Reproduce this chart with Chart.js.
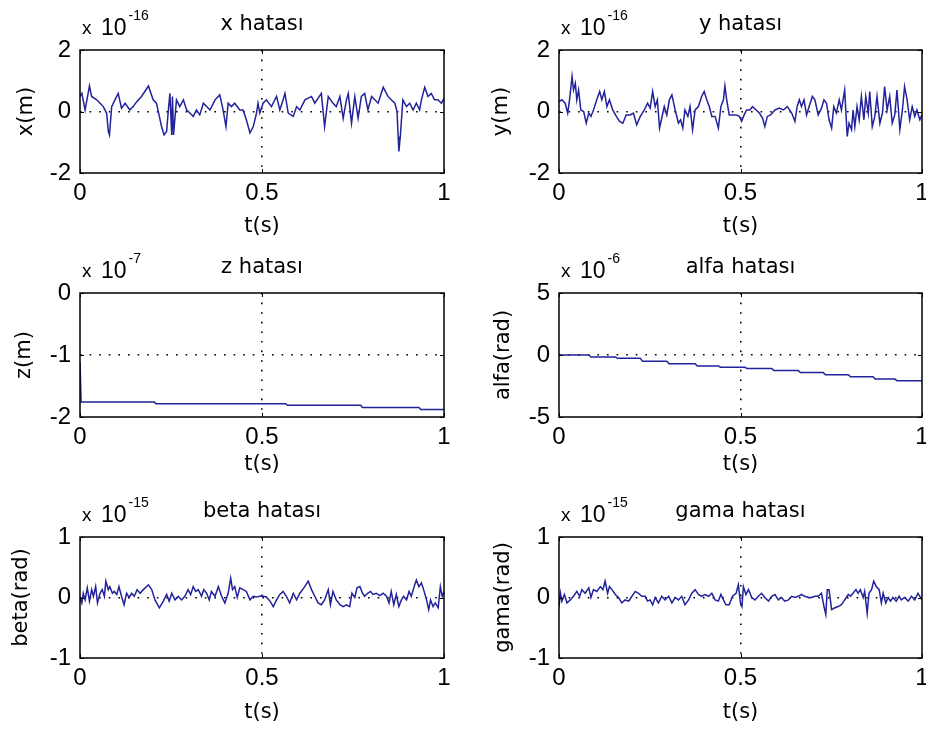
<!DOCTYPE html>
<html>
<head>
<meta charset="utf-8">
<title>Hata grafikleri</title>
<script src="https://cdn.jsdelivr.net/npm/chart.js@4.4.1/dist/chart.umd.min.js"></script>
<style>
  html, body { margin: 0; padding: 0; background: #fff; overflow: hidden; }
  body { width: 926px; height: 735px; position: relative; }
  canvas { position: absolute; }
</style>
</head>
<body>
<script>
// shared time axis
const tTicks = [0, 0.5, 1];

// x hatası (x 10^-16)
const xTicks = [-2, 0, 2];
const tX = [
  0, 0.005, 0.014, 0.026, 0.032, 0.046, 0.055, 0.064, 0.073, 0.078,
  0.081, 0.087, 0.096, 0.105, 0.114, 0.124, 0.137, 0.146, 0.156, 0.169,
  0.188, 0.201, 0.210, 0.218, 0.224, 0.231, 0.238, 0.242, 0.247, 0.252,
  0.254, 0.257, 0.265, 0.274, 0.284, 0.293, 0.302, 0.311, 0.320, 0.329,
  0.339, 0.348, 0.357, 0.371, 0.384, 0.393, 0.401, 0.407, 0.416, 0.425,
  0.439, 0.448, 0.457, 0.467, 0.476, 0.485, 0.489, 0.494, 0.503, 0.512,
  0.526, 0.540, 0.549, 0.558, 0.563, 0.572, 0.586, 0.595, 0.604, 0.618,
  0.636, 0.645, 0.663, 0.672, 0.682, 0.695, 0.704, 0.714, 0.723, 0.732,
  0.737, 0.746, 0.755, 0.764, 0.773, 0.782, 0.791, 0.801, 0.810, 0.819,
  0.833, 0.846, 0.855, 0.865, 0.871, 0.874, 0.876, 0.880, 0.887, 0.897,
  0.906, 0.915, 0.924, 0.933, 0.938, 0.947, 0.956, 0.965, 0.974, 0.983,
  0.993, 1.0
];
const xErr = [
  0.49, 0.59, 0.05, 0.83, 0.49, 0.38, 0.27, 0.16, -0.05, -0.65,
  -0.76, 0.16, 0.38, 0.59, 0.11, 0.27, 0.05, 0.16, 0.32, 0.49,
  0.83, 0.38, 0.27, -0.16, -0.49, -0.76, -0.65, -0.05, 0.59, -0.76,
  0.49, -0.76, 0.38, 0.16, 0.38, 0.05, -0.05, -0.16, 0.05, -0.11,
  0.27, 0.16, 0.05, 0.38, 0.54, 0.05, -0.49, 0.27, 0.16, 0.27,
  0.05, 0.05, -0.27, -0.70, -0.49, -0.05, 0.27, -0.05, 0.27, 0.38,
  0.16, 0.49, 0.05, 0.38, 0.59, -0.05, -0.16, 0.16, 0.05, 0.38,
  0.49, 0.27, 0.59, -0.49, 0.49, 0.27, 0.16, 0.49, -0.22, 0.38,
  0.59, -0.38, 0.49, -0.22, 0.49, 0.59, 0.05, 0.49, 0.38, 0.27,
  0.79, 0.49, 0.38, 0.27, 0.00, -0.81, -1.30, -0.81, 0.38, 0.16,
  0.27, 0.05, 0.27, 0.05, 0.38, 0.79, 0.49, 0.59, 0.38, 0.38,
  0.27, 0.43
];

// y hatası (x 10^-16)
const yTicks = [-2, 0, 2];
const tY = [
  0, 0.008, 0.017, 0.024, 0.029, 0.036, 0.040, 0.045, 0.049, 0.054,
  0.060, 0.068, 0.075, 0.082, 0.088, 0.095, 0.104, 0.112, 0.118, 0.125,
  0.132, 0.139, 0.148, 0.158, 0.167, 0.176, 0.185, 0.196, 0.205, 0.214,
  0.224, 0.235, 0.244, 0.251, 0.258, 0.265, 0.271, 0.277, 0.283, 0.290,
  0.297, 0.304, 0.311, 0.320, 0.329, 0.335, 0.341, 0.347, 0.355, 0.361,
  0.368, 0.375, 0.384, 0.393, 0.400, 0.407, 0.414, 0.421, 0.430, 0.439,
  0.446, 0.453, 0.457, 0.462, 0.469, 0.478, 0.488, 0.497, 0.503, 0.510,
  0.517, 0.526, 0.533, 0.543, 0.552, 0.561, 0.567, 0.574, 0.583, 0.595,
  0.607, 0.618, 0.629, 0.641, 0.650, 0.656, 0.662, 0.668, 0.675, 0.682,
  0.689, 0.698, 0.705, 0.714, 0.723, 0.730, 0.737, 0.744, 0.751, 0.757,
  0.764, 0.772, 0.778, 0.787, 0.794, 0.799, 0.806, 0.810, 0.815, 0.821,
  0.827, 0.833, 0.840, 0.845, 0.852, 0.856, 0.863, 0.870, 0.876, 0.884,
  0.891, 0.897, 0.904, 0.911, 0.918, 0.925, 0.931, 0.939, 0.946, 0.952,
  0.959, 0.966, 0.973, 0.980, 0.986, 0.994, 1.0
];
const yErr = [
  0.32, 0.38, 0.27, -0.05, 0.38, 1.14, 0.70, 0.92, 0.38, 0.70,
  0.05, 0.00, -0.38, -0.05, -0.16, 0.05, 0.38, 0.65, 0.38, 0.65,
  0.16, 0.38, 0.05, -0.16, -0.32, -0.38, -0.11, -0.11, -0.05, -0.43,
  -0.16, 0.05, 0.27, 0.11, 0.65, 0.16, 0.38, -0.54, -0.22, 0.16,
  -0.11, 0.38, 0.54, 0.05, -0.38, -0.27, -0.54, 0.05, -0.16, 0.16,
  -0.59, 0.05, 0.16, 0.49, 0.65, 0.38, 0.16, -0.16, -0.16, -0.54,
  0.16, 0.38, 0.83, 0.38, -0.11, -0.11, -0.11, -0.16, -0.32, -0.11,
  0.05, 0.05, 0.16, 0.05, -0.05, -0.22, -0.49, -0.16, -0.11, 0.05,
  0.11, 0.05, 0.16, -0.05, -0.32, 0.16, 0.38, 0.16, 0.38, -0.11,
  0.16, 0.49, 0.38, -0.11, 0.11, 0.38, 0.27, -0.27, -0.54, 0.16,
  -0.05, 0.38, 0.05, 0.70, -0.81, -0.38, -0.59, 0.05, -0.49, 0.16,
  -0.27, 0.49, -0.27, 0.49, -0.05, 0.65, -0.49, -0.16, 0.49, -0.38,
  -0.05, 0.81, 0.05, 0.49, -0.38, -0.11, 0.70, -0.59, 0.05, 0.81,
  0.38, -0.27, 0.16, -0.16, 0.05, -0.27, -0.11
];

// z hatası (x 10^-7)
const zTicks = [-2, -1, 0];
const tZ = [0, 0.003, 0.204, 0.209, 0.565, 0.570, 0.771, 0.776, 0.931, 0.936, 1.0];
const zErr = [-1.12, -1.76, -1.76, -1.785, -1.785, -1.81, -1.81, -1.845, -1.845, -1.88, -1.88];

// alfa hatası (x 10^-6)
const alfaTicks = [-5, 0, 5];
const tAlfa = [
  0, 0.082, 0.088, 0.155, 0.161, 0.224, 0.230, 0.297, 0.303, 0.375,
  0.381, 0.439, 0.445, 0.512, 0.518, 0.586, 0.592, 0.659, 0.665, 0.728,
  0.734, 0.797, 0.803, 0.865, 0.871, 0.925, 0.931, 1.0
];
const alfaErr = [
  0, 0, -0.16, -0.16, -0.27, -0.27, -0.51, -0.51, -0.70, -0.70,
  -0.89, -0.89, -0.99, -0.99, -1.08, -1.08, -1.26, -1.26, -1.42, -1.42,
  -1.59, -1.59, -1.75, -1.75, -1.94, -1.94, -2.07, -2.07
];

// beta hatası (x 10^-15)
const betaTicks = [-1, 0, 1];
const tBeta = [
  0, 0.005, 0.009, 0.014, 0.020, 0.026, 0.032, 0.037, 0.043, 0.048,
  0.055, 0.061, 0.067, 0.071, 0.078, 0.082, 0.089, 0.094, 0.101, 0.107,
  0.114, 0.121, 0.128, 0.135, 0.142, 0.149, 0.157, 0.165, 0.174, 0.188,
  0.197, 0.206, 0.218, 0.229, 0.238, 0.245, 0.252, 0.261, 0.270, 0.279,
  0.288, 0.297, 0.304, 0.311, 0.318, 0.325, 0.334, 0.340, 0.348, 0.355,
  0.361, 0.371, 0.380, 0.389, 0.398, 0.407, 0.414, 0.419, 0.425, 0.432,
  0.439, 0.448, 0.457, 0.467, 0.476, 0.485, 0.494, 0.503, 0.512, 0.522,
  0.531, 0.540, 0.549, 0.558, 0.567, 0.576, 0.586, 0.595, 0.604, 0.615,
  0.627, 0.636, 0.645, 0.654, 0.663, 0.672, 0.682, 0.688, 0.695, 0.704,
  0.714, 0.723, 0.732, 0.741, 0.747, 0.755, 0.761, 0.769, 0.776, 0.782,
  0.790, 0.798, 0.805, 0.814, 0.823, 0.833, 0.842, 0.849, 0.855, 0.862,
  0.869, 0.876, 0.883, 0.889, 0.897, 0.904, 0.910, 0.918, 0.924, 0.931,
  0.938, 0.944, 0.952, 0.958, 0.963, 0.970, 0.976, 0.984, 0.990, 0.995,
  1.0
];
const betaErr = [
  0, -0.09, 0.07, -0.04, 0.16, -0.06, 0.13, 0.02, 0.18, -0.09,
  0.07, 0.13, 0.02, 0.27, 0.13, 0.18, 0.07, 0.10, 0.05, 0.18,
  0.02, -0.12, 0.07, 0, 0.07, 0.02, 0.13, 0.07, 0.13, 0.21,
  0.13, -0.04, -0.17, -0.06, 0.05, -0.06, 0.07, -0.04, 0.02, -0.04,
  0.02, 0.13, 0.05, 0.18, 0.10, 0.13, 0.02, 0.13, 0.07, -0.04,
  0.10, 0.02, 0.18, 0.02, -0.09, 0.07, 0.32, 0.13, 0.18, 0,
  0.16, 0.13, 0.10, -0.04, 0.02, 0.01, 0.02, 0.02, 0.01, -0.06,
  -0.15, -0.04, 0.05, 0.10, 0.02, -0.09, 0.07, -0.04, 0.07, 0.16,
  0.27, 0.13, 0.02, -0.09, -0.12, -0.04, 0.13, -0.12, 0.10, -0.04,
  -0.12, -0.15, -0.12, -0.15, 0.07, 0, 0.16, 0.18, 0.07, 0.02,
  0.07, 0.10, 0.05, 0.07, 0.03, 0.07, 0.02, -0.09, 0.10, -0.12,
  0.05, -0.15, -0.04, 0.02, -0.04, 0.10, 0.02, 0.18, 0.29, 0.18,
  0.24, 0.13, -0.04, -0.20, -0.04, -0.15, -0.09, -0.17, 0.18, 0.02,
  0.10
];

// gama hatası (x 10^-15)
const gamaTicks = [-1, 0, 1];
const tGama = [
  0, 0.004, 0.008, 0.015, 0.022, 0.031, 0.040, 0.049, 0.057, 0.063,
  0.072, 0.082, 0.088, 0.095, 0.104, 0.114, 0.121, 0.127, 0.134, 0.139,
  0.146, 0.155, 0.164, 0.173, 0.182, 0.192, 0.201, 0.210, 0.219, 0.228,
  0.237, 0.244, 0.251, 0.258, 0.265, 0.274, 0.283, 0.292, 0.302, 0.311,
  0.320, 0.329, 0.338, 0.347, 0.357, 0.366, 0.375, 0.384, 0.393, 0.402,
  0.412, 0.421, 0.430, 0.439, 0.446, 0.453, 0.460, 0.469, 0.478, 0.488,
  0.494, 0.500, 0.504, 0.508, 0.515, 0.522, 0.531, 0.540, 0.549, 0.558,
  0.567, 0.577, 0.586, 0.595, 0.604, 0.613, 0.622, 0.632, 0.641, 0.650,
  0.659, 0.668, 0.677, 0.687, 0.696, 0.705, 0.714, 0.723, 0.730, 0.735,
  0.739, 0.744, 0.751, 0.760, 0.769, 0.778, 0.787, 0.797, 0.803, 0.810,
  0.818, 0.824, 0.830, 0.838, 0.842, 0.849, 0.854, 0.861, 0.867, 0.874,
  0.882, 0.888, 0.893, 0.900, 0.907, 0.913, 0.920, 0.929, 0.937, 0.943,
  0.952, 0.962, 0.971, 0.980, 0.989, 1.0
];
const gamaErr = [
  -0.15, 0.07, -0.06, 0.05, -0.09, -0.04, 0.02, 0.10, 0.02, 0.13,
  0.07, 0.16, 0, 0.13, 0.10, 0.18, 0.13, 0.27, 0.07, 0.18,
  0.13, 0.05, 0, -0.09, -0.04, -0.06, 0.02, 0.10, 0.07, 0.02,
  0.02, -0.06, -0.04, -0.12, 0, -0.09, 0.02, -0.04, 0.02, -0.09,
  0, -0.04, 0.02, -0.12, -0.04, 0.07, 0.13, 0.05, 0.02, 0.05,
  0.02, 0.07, -0.04, -0.06, 0.05, -0.04, -0.12, -0.12, 0.02, 0.07,
  0.21, -0.09, -0.15, 0.18, 0.05, 0.13, 0, -0.04, 0.02, 0.07,
  0, -0.06, 0.02, 0.05, -0.04, 0, -0.06, -0.04, 0.02, 0,
  0.02, 0.05, 0.02, 0, 0, 0.02, 0.02, 0.07, -0.15, -0.28,
  0.13, 0.13, -0.20, -0.17, -0.15, -0.12, -0.04, 0.05, 0.02, 0.07,
  0.13, 0.07, 0.13, 0, 0.10, -0.26, 0.07, 0.13, 0.27, 0.18,
  0.13, -0.09, 0.07, -0.09, 0, -0.06, 0, -0.06, 0.02, -0.04,
  0, -0.06, 0.02, -0.04, 0.07, -0.04
];

const panels = [
  { title: 'x hatası',    yTitle: 'x(m)',      exp: '-16', t: tX,    v: xErr,    ticks: xTicks,    col: 0, row: 0, yTitleX: 27 },
  { title: 'y hatası',    yTitle: 'y(m)',      exp: '-16', t: tY,    v: yErr,    ticks: yTicks,    col: 1, row: 0, yTitleX: 502 },
  { title: 'z hatası',    yTitle: 'z(m)',      exp: '-7',  t: tZ,    v: zErr,    ticks: zTicks,    col: 0, row: 1, yTitleX: 25 },
  { title: 'alfa hatası', yTitle: 'alfa(rad)', exp: '-6',  t: tAlfa, v: alfaErr, ticks: alfaTicks, col: 1, row: 1, yTitleX: 504 },
  { title: 'beta hatası', yTitle: 'beta(rad)', exp: '-15', t: tBeta, v: betaErr, ticks: betaTicks, col: 0, row: 2, yTitleX: 22 },
  { title: 'gama hatası', yTitle: 'gama(rad)', exp: '-15', t: tGama, v: gamaErr, ticks: gamaTicks, col: 1, row: 2, yTitleX: 504 }
];

// subplot grid (page pixels): canvas slot and axes box
const COLS = [
  { x: 0,   w: 463, left: 80,  right: 444 },
  { x: 463, w: 480, left: 559, right: 922 }
];
const ROWS = [
  { y: 0,   h: 245, top: 50,  bottom: 173, xTitleY: 227 },
  { y: 245, h: 245, top: 293, bottom: 417, xTitleY: 465 },
  { y: 490, h: 245, top: 537, bottom: 658, xTitleY: 713 }
];

const LINE_COLOR = '#22229c';
const TICK_LEN = 4;
const SANS = '"Liberation Sans", Arial, Helvetica, sans-serif';
const WIDE = '"DejaVu Sans", Verdana, sans-serif';

Chart.defaults.color = '#000';
Chart.defaults.font.family = SANS;

// box, inward tick marks, title and exponent label
const matlabAxes = {
  id: 'matlabAxes',
  afterDraw(chart, args, opts) {
    const { ctx, chartArea: a, scales: { x, y } } = chart;
    ctx.save();
    ctx.strokeStyle = '#000';
    ctx.lineWidth = 1;
    ctx.beginPath();
    x.ticks.forEach(tk => {
      const px = Math.round(x.getPixelForValue(tk.value)) + 0.5;
      ctx.moveTo(px, a.bottom); ctx.lineTo(px, a.bottom - TICK_LEN);
      ctx.moveTo(px, a.top); ctx.lineTo(px, a.top + TICK_LEN);
    });
    y.ticks.forEach(tk => {
      const py = Math.round(y.getPixelForValue(tk.value)) + 0.5;
      ctx.moveTo(a.left, py); ctx.lineTo(a.left + TICK_LEN, py);
      ctx.moveTo(a.right, py); ctx.lineTo(a.right - TICK_LEN, py);
    });
    ctx.stroke();
    ctx.lineWidth = 1.5;
    ctx.strokeRect(a.left, a.top, a.right - a.left, a.bottom - a.top);

    ctx.fillStyle = '#000';
    ctx.textBaseline = 'alphabetic';
    ctx.textAlign = 'center';
    ctx.font = '21px ' + WIDE;
    ctx.fillText(opts.title, (a.left + a.right) / 2, a.top - 20);

    ctx.textAlign = 'left';
    ctx.font = '19px ' + SANS;
    ctx.fillText('x', a.left + 2, a.top - 16);
    ctx.font = '23px ' + SANS;
    ctx.fillText('10', a.left + 21, a.top - 15);
    const w = ctx.measureText('10').width;
    ctx.font = '14px ' + SANS;
    ctx.fillText(opts.exp, a.left + 23 + w, a.top - 30);
    ctx.restore();
  }
};

function edgeHidden(list) {
  return c => (c.tick && (c.tick.value === list[0] || c.tick.value === list[list.length - 1]))
    ? 'rgba(0,0,0,0)' : '#000';
}

panels.forEach(p => {
  const col = COLS[p.col];
  const row = ROWS[p.row];
  const cv = document.createElement('canvas');
  cv.width = col.w;
  cv.height = row.h;
  cv.style.left = col.x + 'px';
  cv.style.top = row.y + 'px';
  document.body.appendChild(cv);

  const yAxisW = col.left - col.x;
  const xAxisH = row.y + row.h - row.bottom;

  new Chart(cv, {
    type: 'line',
    data: {
      datasets: [{
        data: p.t.map((t, i) => ({ x: t, y: p.v[i] })),
        borderColor: LINE_COLOR,
        borderWidth: 1.5,
        pointRadius: 0,
        tension: 0
      }]
    },
    options: {
      responsive: false,
      animation: false,
      events: [],
      layout: { padding: { top: row.top - row.y, right: col.x + col.w - col.right, left: 0, bottom: 0 } },
      plugins: {
        legend: { display: false },
        tooltip: { enabled: false },
        matlabAxes: { title: p.title, exp: p.exp }
      },
      scales: {
        x: {
          type: 'linear',
          min: tTicks[0],
          max: tTicks[tTicks.length - 1],
          afterBuildTicks: s => { s.ticks = tTicks.map(value => ({ value })); },
          afterFit: s => { s.height = xAxisH; },
          grid: { color: edgeHidden(tTicks), lineWidth: 1.6, drawTicks: false },
          border: { display: false, dash: [1.6, 8] },
          ticks: { font: { size: 24 }, padding: 6, maxRotation: 0, autoSkip: false, callback: v => String(v) },
          title: {
            display: true, text: 't(s)', font: { family: WIDE, size: 21 },
            padding: { top: 0, bottom: row.y + row.h - row.xTitleY - 12.6 }
          }
        },
        y: {
          type: 'linear',
          min: p.ticks[0],
          max: p.ticks[p.ticks.length - 1],
          afterBuildTicks: s => { s.ticks = p.ticks.map(value => ({ value })); },
          afterFit: s => { s.width = yAxisW; },
          grid: { color: edgeHidden(p.ticks), lineWidth: 1.6, drawTicks: false },
          border: { display: false, dash: [1.6, 8] },
          ticks: { font: { size: 24 }, padding: 9, callback: v => String(v) },
          title: {
            display: true, text: p.yTitle, font: { family: WIDE, size: 21 },
            padding: { top: p.yTitleX - col.x - 12.6, bottom: 0 }
          }
        }
      }
    },
    plugins: [matlabAxes]
  });
});
</script>
</body>
</html>
